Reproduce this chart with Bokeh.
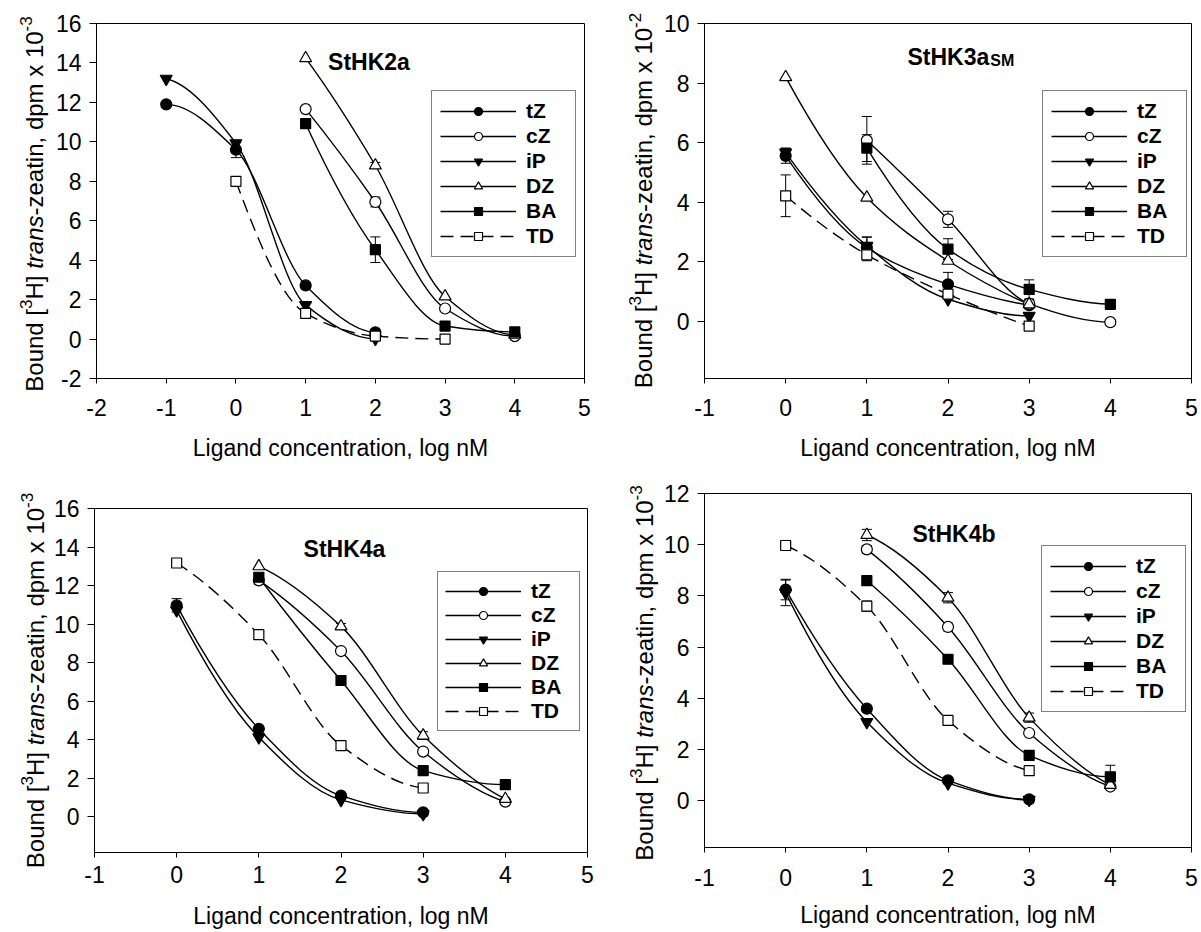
import math
from bokeh.plotting import figure
from bokeh.models import (Range1d, Label, Legend, LegendItem, Whisker, TeeHead,
                          ColumnDataSource, FixedTicker)
from bokeh.layouts import column, row
from bokeh.embed import file_html
from bokeh.resources import INLINE

# ---------------- data ----------------
SERIES = ["tZ", "cZ", "iP", "DZ", "BA", "TD"]

# StHK2a
HK2A_X = [-1, 0, 1, 2, 3, 4]
HK2A_TZ = [11.9, 9.6, 2.72, 0.34, None, None]
HK2A_CZ = [None, None, 11.66, 6.95, 1.55, 0.15]
HK2A_IP = [13.2, 9.93, 1.72, 0.02, None, None]
HK2A_DZ = [None, None, 14.24, 8.8, 2.16, 0.22]
HK2A_BA = [None, None, 10.92, 4.53, 0.66, 0.36]
HK2A_TD = [None, 8.0, 1.3, 0.15, 0.0, None]
HK2A_TZ_ERR = [0, 0.4, 0, 0, 0, 0]
HK2A_CZ_ERR = [0, 0, 0, 0.25, 0, 0]
HK2A_IP_ERR = [0, 0, 0, 0, 0, 0]
HK2A_DZ_ERR = [0, 0, 0, 0.15, 0, 0]
HK2A_BA_ERR = [0, 0, 0, 0.65, 0, 0]
HK2A_TD_ERR = [0, 0, 0, 0, 0, 0]

# StHK3a_SM
HK3A_X = [0, 1, 2, 3, 4]
HK3A_TZ = [5.56, 2.48, 1.25, 0.55, None]
HK3A_CZ = [None, 6.08, 3.43, 0.6, -0.02]
HK3A_IP = [5.67, 2.54, 0.75, 0.19, None]
HK3A_DZ = [8.2, 4.16, 2.04, 0.58, None]
HK3A_BA = [None, 5.82, 2.43, 1.08, 0.58]
HK3A_TD = [4.22, 2.24, 0.92, -0.15, None]
HK3A_TZ_ERR = [0.25, 0.35, 0.4, 0, 0]
HK3A_CZ_ERR = [0, 0.8, 0.27, 0, 0]
HK3A_IP_ERR = [0.15, 0.3, 0, 0, 0]
HK3A_DZ_ERR = [0, 0, 0, 0.15, 0]
HK3A_BA_ERR = [0, 0.45, 0.35, 0.32, 0]
HK3A_TD_ERR = [0.7, 0.2, 0, 0, 0]

# StHK4a
HK4A_X = [0, 1, 2, 3, 4]
HK4A_TZ = [10.97, 4.56, 1.09, 0.22, None]
HK4A_CZ = [None, 12.27, 8.6, 3.38, 0.78]
HK4A_IP = [10.71, 4.12, 0.87, 0.14, None]
HK4A_DZ = [None, 13.0, 9.88, 4.21, 0.92]
HK4A_BA = [None, 12.43, 7.07, 2.39, 1.66]
HK4A_TD = [13.17, 9.45, 3.69, 1.49, None]
HK4A_TZ_ERR = [0.35, 0, 0, 0, 0]
HK4A_CZ_ERR = [0, 0.2, 0, 0, 0]
HK4A_IP_ERR = [0, 0, 0, 0, 0]
HK4A_DZ_ERR = [0, 0, 0.15, 0.2, 0]
HK4A_BA_ERR = [0, 0, 0, 0, 0]
HK4A_TD_ERR = [0, 0.15, 0, 0, 0]

# StHK4b
HK4B_X = [0, 1, 2, 3, 4]
HK4B_TZ = [8.25, 3.6, 0.8, 0.06, None]
HK4B_CZ = [None, 9.82, 6.79, 2.65, 0.56]
HK4B_IP = [8.12, 3.08, 0.69, 0.04, None]
HK4B_DZ = [None, 10.38, 7.93, 3.25, 0.62]
HK4B_BA = [None, 8.6, 5.53, 1.78, 0.94]
HK4B_TD = [9.97, 7.6, 3.14, 1.18, None]
HK4B_TZ_ERR = [0.4, 0.12, 0, 0, 0]
HK4B_CZ_ERR = [0, 0.15, 0.15, 0, 0]
HK4B_IP_ERR = [0.5, 0, 0, 0, 0]
HK4B_DZ_ERR = [0, 0.22, 0.2, 0.18, 0]
HK4B_BA_ERR = [0, 0, 0, 0, 0.45]
HK4B_TD_ERR = [0, 0.2, 0, 0, 0]

X_TICKS_WIDE = [-2, -1, 0, 1, 2, 3, 4, 5]
X_TICKS = [-1, 0, 1, 2, 3, 4, 5]
Y_TICKS_2A = [-2, 0, 2, 4, 6, 8, 10, 12, 14, 16]
Y_TICKS_3A = [0, 2, 4, 6, 8, 10]
Y_TICKS_4A = [0, 2, 4, 6, 8, 10, 12, 14, 16]
Y_TICKS_4B = [0, 2, 4, 6, 8, 10, 12]

# ---------------- styles ----------------
FONT = "Liberation Sans"
STYLE = {
    "tZ": ("circle", "black", 11, "solid"),
    "cZ": ("circle", "white", 11, "solid"),
    "iP": ("inverted_triangle", "black", 12, "solid"),
    "DZ": ("triangle", "white", 12, "solid"),
    "BA": ("square", "black", 10, "solid"),
    "TD": ("square", "white", 10, "13 7"),
}

# Arial / Liberation Sans advance widths (per 1000 em)
W_REG = {' ': 278, '[': 278, ']': 278, '-': 333, ',': 278, '0': 556, '1': 556,
         '2': 556, '3': 556, 'B': 667, 'H': 722, 'o': 556, 'u': 556, 'n': 556,
         'd': 556, 't': 278, 'r': 333, 'a': 556, 's': 500, 'z': 500, 'e': 556,
         'i': 222, 'p': 556, 'm': 833, 'x': 500}
W_BOLD = {'S': 667, 't': 333, 'H': 722, 'K': 722, '2': 556, '3': 556, '4': 556,
          'a': 556, 'b': 611, 'M': 833}


def tw(text, size, table):
    return sum(table.get(c, 556) for c in text) * size / 1000.0


def to_data(g, sx, sy):
    x0, x1 = g["xr"]
    y0, y1 = g["yr"]
    return (x0 + (sx - g["L"]) / g["fw"] * (x1 - x0),
            y1 - (sy - g["T"]) / g["fh"] * (y1 - y0))


def tangents(x, y):
    n = len(x)
    h = [x[i + 1] - x[i] for i in range(n - 1)]
    d = [(y[i + 1] - y[i]) / h[i] for i in range(n - 1)]
    if n == 2:
        return [d[0], d[0]]
    m = [0.0] * n
    for k in range(1, n - 1):
        if d[k - 1] * d[k] <= 0:
            m[k] = 0.0
        else:
            w1 = 2 * h[k] + h[k - 1]
            w2 = h[k] + 2 * h[k - 1]
            m[k] = (w1 + w2) / (w1 / d[k - 1] + w2 / d[k])

    def end(h0, h1, d0, d1):
        v = ((2 * h0 + h1) * d0 - h0 * d1) / (h0 + h1)
        if v * d0 <= 0:
            v = 0.0
        elif d0 * d1 < 0 and abs(v) > abs(3 * d0):
            v = 3 * d0
        return v

    m[0] = end(h[0], h[1], d[0], d[1])
    m[-1] = end(h[-1], h[-2], d[-1], d[-2])
    return m


def bezier_data(xs, ys):
    m = tangents(xs, ys)
    out = dict(x0=[], y0=[], x1=[], y1=[], cx0=[], cy0=[], cx1=[], cy1=[])
    for i in range(len(xs) - 1):
        h = xs[i + 1] - xs[i]
        out["x0"].append(xs[i]); out["y0"].append(ys[i])
        out["x1"].append(xs[i + 1]); out["y1"].append(ys[i + 1])
        out["cx0"].append(xs[i] + h / 3); out["cy0"].append(ys[i] + m[i] * h / 3)
        out["cx1"].append(xs[i + 1] - h / 3); out["cy1"].append(ys[i + 1] - m[i + 1] * h / 3)
    return out


def make_panel(g, xvals, values, errors, xticks, yticks, title, leg):
    p = figure(frame_width=g["fw"], frame_height=g["fh"],
               x_range=Range1d(*g["xr"]), y_range=Range1d(*g["yr"]),
               min_border_left=g["bl"], min_border_right=g["br"],
               min_border_top=g["bt"], min_border_bottom=g["bb"],
               output_backend="svg", toolbar_location=None)
    p.frame_align = False
    p.grid.visible = False
    p.outline_line_color = "black"
    p.outline_line_width = 1
    p.background_fill_color = "white"
    p.border_fill_color = "white"

    for ax in (p.xaxis[0], p.yaxis[0]):
        ax.major_label_text_font = FONT
        ax.major_label_text_font_size = "23px"
        ax.major_label_text_color = "black"
        ax.axis_line_color = "black"
        ax.major_tick_line_color = "black"
        ax.minor_tick_line_color = None
        ax.major_tick_in = 0
    p.xaxis.ticker = FixedTicker(ticks=xticks)
    p.xaxis.major_label_overrides = {t: str(t) for t in xticks}
    p.yaxis.ticker = FixedTicker(ticks=yticks)
    p.yaxis.major_label_overrides = {t: str(t) for t in yticks}
    p.xaxis.major_tick_out = 5
    p.yaxis.major_tick_out = 7
    p.yaxis.major_label_standoff = 8
    p.xaxis.major_label_standoff = g["s1"]
    p.xaxis.axis_label = "Ligand concentration, log nM"
    p.xaxis.axis_label_text_font = FONT
    p.xaxis.axis_label_text_font_size = "23px"
    p.xaxis.axis_label_text_font_style = "normal"
    p.xaxis.axis_label_text_color = "black"
    p.xaxis.axis_label_standoff = g["s2"]

    lines, dots = {}, {}
    for name in SERIES:
        xs = [x for x, v in zip(xvals, values[name]) if v is not None]
        ys = [v for v in values[name] if v is not None]
        marker, fill, size, dash = STYLE[name]
        src = ColumnDataSource(bezier_data(xs, ys))
        lines[name] = p.bezier(x0="x0", y0="y0", x1="x1", y1="y1",
                               cx0="cx0", cy0="cy0", cx1="cx1", cy1="cy1",
                               source=src, line_color="black", line_width=1.4,
                               line_dash=dash)
    for name in SERIES:
        ex = [x for x, v, e in zip(xvals, values[name], errors[name]) if v is not None and e > 0]
        ey = [v for v, e in zip(values[name], errors[name]) if v is not None and e > 0]
        ee = [e for v, e in zip(values[name], errors[name]) if v is not None and e > 0]
        if ex:
            wsrc = ColumnDataSource(dict(base=ex,
                                         lower=[a - b for a, b in zip(ey, ee)],
                                         upper=[a + b for a, b in zip(ey, ee)]))
            p.add_layout(Whisker(source=wsrc, base="base", lower="lower", upper="upper",
                                 dimension="height", line_color="black", line_width=1,
                                 upper_head=TeeHead(size=10, line_color="black", line_width=1),
                                 lower_head=TeeHead(size=10, line_color="black", line_width=1)))
    for name in SERIES:
        xs = [x for x, v in zip(xvals, values[name]) if v is not None]
        ys = [v for v in values[name] if v is not None]
        marker, fill, size, dash = STYLE[name]
        dots[name] = p.scatter(x=xs, y=ys, marker=marker, size=size,
                               fill_color=fill, line_color="black", line_width=1.2)

    legend = Legend(items=[LegendItem(label=n, renderers=[lines[n], dots[n]]) for n in SERIES],
                    location=(leg["x"], leg["y"]), orientation="vertical", margin=0,
                    border_line_color="black", border_line_width=1,
                    background_fill_color="white", background_fill_alpha=1.0,
                    padding=leg["pad"], spacing=leg["sp"], glyph_width=76, glyph_height=20,
                    label_standoff=10, label_height=20, label_width=41,
                    label_text_font=FONT, label_text_font_style="bold",
                    label_text_font_size="21px", label_text_color="black")
    p.add_layout(legend)

    # panel title (bold, inside the frame)
    tx, ty = to_data(g, g["tx"], g["ty"])
    if len(title) == 1:
        p.add_layout(Label(x=tx, y=ty, text=title[0], text_align="center",
                           text_baseline="alphabetic", text_font=FONT,
                           text_font_style="bold", text_font_size="23px", text_color="black"))
    else:
        p.add_layout(Label(x=tx, y=ty, text=title[0], text_align="left",
                           text_baseline="alphabetic", text_font=FONT,
                           text_font_style="bold", text_font_size="23px", text_color="black"))
        sx2, sy2 = to_data(g, g["tx"] + tw(title[0], 23, W_BOLD) + 1, g["ty"] + 3)
        p.add_layout(Label(x=sx2, y=sy2, text=title[1], text_align="left",
                           text_baseline="alphabetic", text_font=FONT,
                           text_font_style="bold", text_font_size="16px", text_color="black"))
    return p


def make_ylabel_strip(s, exp):
    """Narrow plot holding the rotated y-axis title (with superscripts and italics)."""
    w, h = s["w"], s["h"]
    q = figure(frame_width=w, frame_height=h, x_range=Range1d(0, w), y_range=Range1d(0, h),
               x_axis_type=None, y_axis_type=None, min_border_left=0, min_border_right=0,
               min_border_top=0, min_border_bottom=0, output_backend="svg",
               toolbar_location=None)
    q.frame_align = False
    q.grid.visible = False
    q.outline_line_color = None
    q.background_fill_color = "white"
    q.border_fill_color = "white"
    pieces = [("Bound [", "normal", 24, 0), ("3", "normal", 17, -9),
              ("H] ", "normal", 24, 0), ("trans", "italic", 24, 0),
              ("-zeatin, dpm x 10", "normal", 24, 0), (exp, "normal", 17, -9)]
    widths = [tw(t, sz, W_REG) for t, _, sz, _ in pieces]
    sy = s["cy"] + sum(widths) / 2          # screen y where the text starts (bottom)
    for (t, style, size, shift), wd in zip(pieces, widths):
        q.add_layout(Label(x=s["bx"] - s["left"] + shift, y=h - (sy - s["top"]), text=t,
                           angle=math.pi / 2, text_align="left", text_baseline="alphabetic",
                           text_font=FONT, text_font_style=style,
                           text_font_size="%dpx" % size, text_color="black"))
        sy -= wd
    return q


def pack(tz, cz, ip, dz, ba, td):
    return dict(zip(SERIES, [tz, cz, ip, dz, ba, td]))


# screen-pixel geometry (layout only)
ROW1_TOP, ROW1_H = 0, 463
ROW2_TOP, ROW2_H = 463, 468

G1 = dict(L=96, T=23, fw=488, fh=355, xr=(-2, 5), yr=(-2, 16), bl=46, br=21, bt=23, bb=85,
          s1=15, s2=16, tx=368.5, ty=61.5)
G2 = dict(L=703, T=23, fw=487, fh=355, xr=(-1, 5), yr=(-1.91, 10), bl=43, br=8, bt=23, bb=85,
          s1=15, s2=16, tx=906, ty=56.6)
G3 = dict(L=94, T=508, fw=493, fh=344, xr=(-1, 5), yr=(-1.86, 16), bl=44, br=18, bt=45, bb=79,
          s1=8, s2=17, tx=344, ty=548)
G4 = dict(L=704, T=493, fw=487, fh=354, xr=(-1, 5), yr=(-1.82, 12), bl=44, br=7, bt=30, bb=83,
          s1=16, s2=13, tx=953.5, ty=533)

S1 = dict(left=0, w=50, top=ROW1_TOP, h=ROW1_H, bx=34, cy=203.5)
S2 = dict(left=605, w=55, top=ROW1_TOP, h=ROW1_H, bx=643, cy=200)
S3 = dict(left=0, w=50, top=ROW2_TOP, h=ROW2_H, bx=35, cy=680)
S4 = dict(left=605, w=55, top=ROW2_TOP, h=ROW2_H, bx=644, cy=672.5)

p1 = make_panel(G1, HK2A_X,
                pack(HK2A_TZ, HK2A_CZ, HK2A_IP, HK2A_DZ, HK2A_BA, HK2A_TD),
                pack(HK2A_TZ_ERR, HK2A_CZ_ERR, HK2A_IP_ERR, HK2A_DZ_ERR, HK2A_BA_ERR, HK2A_TD_ERR),
                X_TICKS_WIDE, Y_TICKS_2A, ["StHK2a"],
                dict(x=335, y=121, pad=8, sp=1))
p2 = make_panel(G2, HK3A_X,
                pack(HK3A_TZ, HK3A_CZ, HK3A_IP, HK3A_DZ, HK3A_BA, HK3A_TD),
                pack(HK3A_TZ_ERR, HK3A_CZ_ERR, HK3A_IP_ERR, HK3A_DZ_ERR, HK3A_BA_ERR, HK3A_TD_ERR),
                X_TICKS, Y_TICKS_3A, ["StHK3a", "SM"],
                dict(x=338, y=121, pad=8, sp=1))
p3 = make_panel(G3, HK4A_X,
                pack(HK4A_TZ, HK4A_CZ, HK4A_IP, HK4A_DZ, HK4A_BA, HK4A_TD),
                pack(HK4A_TZ_ERR, HK4A_CZ_ERR, HK4A_IP_ERR, HK4A_DZ_ERR, HK4A_BA_ERR, HK4A_TD_ERR),
                X_TICKS, Y_TICKS_4A, ["StHK4a"],
                dict(x=343, y=121, pad=7, sp=0))
p4 = make_panel(G4, HK4B_X,
                pack(HK4B_TZ, HK4B_CZ, HK4B_IP, HK4B_DZ, HK4B_BA, HK4B_TD),
                pack(HK4B_TZ_ERR, HK4B_CZ_ERR, HK4B_IP_ERR, HK4B_DZ_ERR, HK4B_BA_ERR, HK4B_TD_ERR),
                X_TICKS, Y_TICKS_4B, ["StHK4b"],
                dict(x=337, y=135, pad=8, sp=1))

s1 = make_ylabel_strip(S1, "-3")
s2 = make_ylabel_strip(S2, "-2")
s3 = make_ylabel_strip(S3, "-3")
s4 = make_ylabel_strip(S4, "-3")

layout = column(row(s1, p1, s2, p2, spacing=0), row(s3, p3, s4, p4, spacing=0), spacing=0)
open("out.html", "w").write(file_html(layout, INLINE))
